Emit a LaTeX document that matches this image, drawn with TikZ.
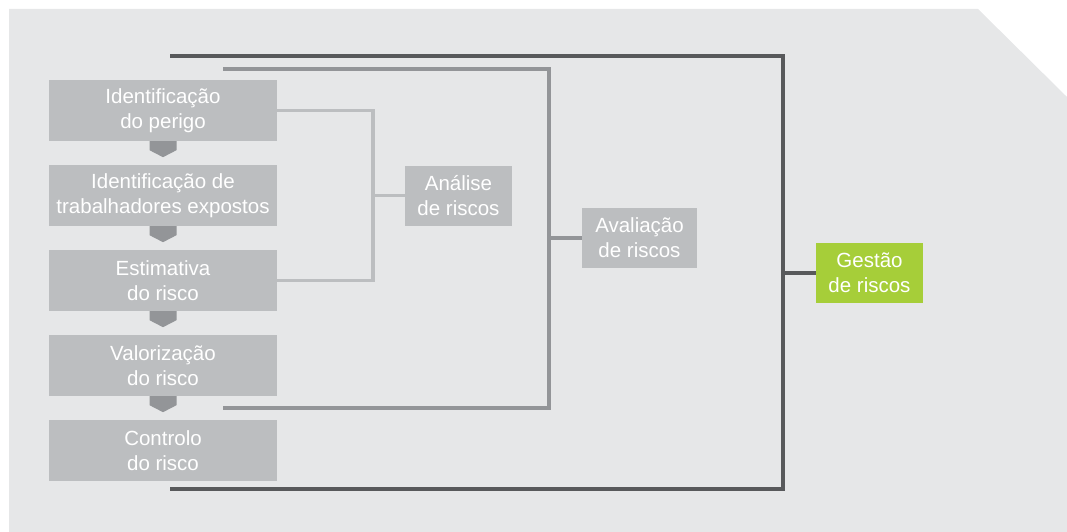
\documentclass[tikz,border=0pt]{standalone}
\usepackage{fontspec}
\setmainfont{Liberation Sans}
\usetikzlibrary{calc}
\definecolor{bgc}{HTML}{E6E7E8}
\definecolor{boxc}{HTML}{BCBEC0}
\definecolor{arrc}{HTML}{939598}
\definecolor{darkc}{HTML}{58595B}
\definecolor{midc}{HTML}{939598}
\definecolor{lightc}{HTML}{BCBEC0}
\definecolor{greenc}{HTML}{A6CE39}
\tikzset{
  stepbox/.style={fill=boxc, text=white, minimum width=228pt, minimum height=61pt, inner sep=0pt, align=center, font=\fontsize{20.5}{25}\selectfont},
  groupbox/.style={fill=boxc, text=white, minimum height=60pt, inner sep=0pt, align=center, font=\fontsize{20.5}{25}\selectfont},
  downarrow/.style={fill=arrc},
  darkline/.style={draw=darkc, line width=3.2pt},
  midline/.style={draw=midc, line width=3.2pt},
  lightline/.style={draw=lightc, line width=3.2pt},
}
\begin{document}
\begin{tikzpicture}[x=1pt,y=-1pt]
\useasboundingbox (0,0) rectangle (1067,532);
\fill[bgc] (9,9) -- (978,9) -- (1067,97) -- (1067,532) -- (9,532) -- cycle;

\node[stepbox] (b1) at (163,110.5) {Identificação\\do perigo};
\node[stepbox] (b2) at (163,195.5) {Identificação de\\trabalhadores expostos};
\node[stepbox] (b3) at (163,280.5) {Estimativa\\do risco};
\node[stepbox] (b4) at (163,365.5) {Valorização\\do risco};
\node[stepbox] (b5) at (163,450.5) {Controlo\\do risco};

\foreach \b in {b1,b2,b3,b4}{
  \fill[downarrow] (\b.south) ++(-13.5,0) -- ++(27,0) -- ++(0,9) -- ++(-13.5,7) -- ++(-13.5,-7) -- cycle;
}

\node[groupbox, minimum width=107pt] (analise) at (458.5,195.5) {Análise\\de riscos};
\node[groupbox, minimum width=115pt] (avaliacao) at (639.5,238) {Avaliação\\de riscos};
\node[groupbox, minimum width=107pt, fill=greenc] (gestao) at (869.5,273) {Gestão\\de riscos};

% light (analise)
\coordinate (la) at (373,110.5);
\coordinate (lb) at (373,280.5);
\draw[lightline] (b1.east) -- (la) -- (lb) -- (b3.east);
\draw[lightline] (373,195.5) -- (analise.west);

% medium (avaliacao)
\coordinate (ma) at (223,69);
\coordinate (mb) at (549,69);
\coordinate (mc) at (549,408);
\coordinate (md) at (223,408);
\draw[midline] (ma) -- (mb) -- (mc) -- (md);
\draw[midline] (549,238) -- (avaliacao.west);

% dark (gestao)
\coordinate (da) at (170,56);
\coordinate (db) at (783,56);
\coordinate (dc) at (783,489);
\coordinate (dd) at (170,489);
\draw[darkline] (da) -- (db) -- (dc) -- (dd);
\draw[darkline] (783,273) -- (gestao.west);
\end{tikzpicture}
\end{document}
